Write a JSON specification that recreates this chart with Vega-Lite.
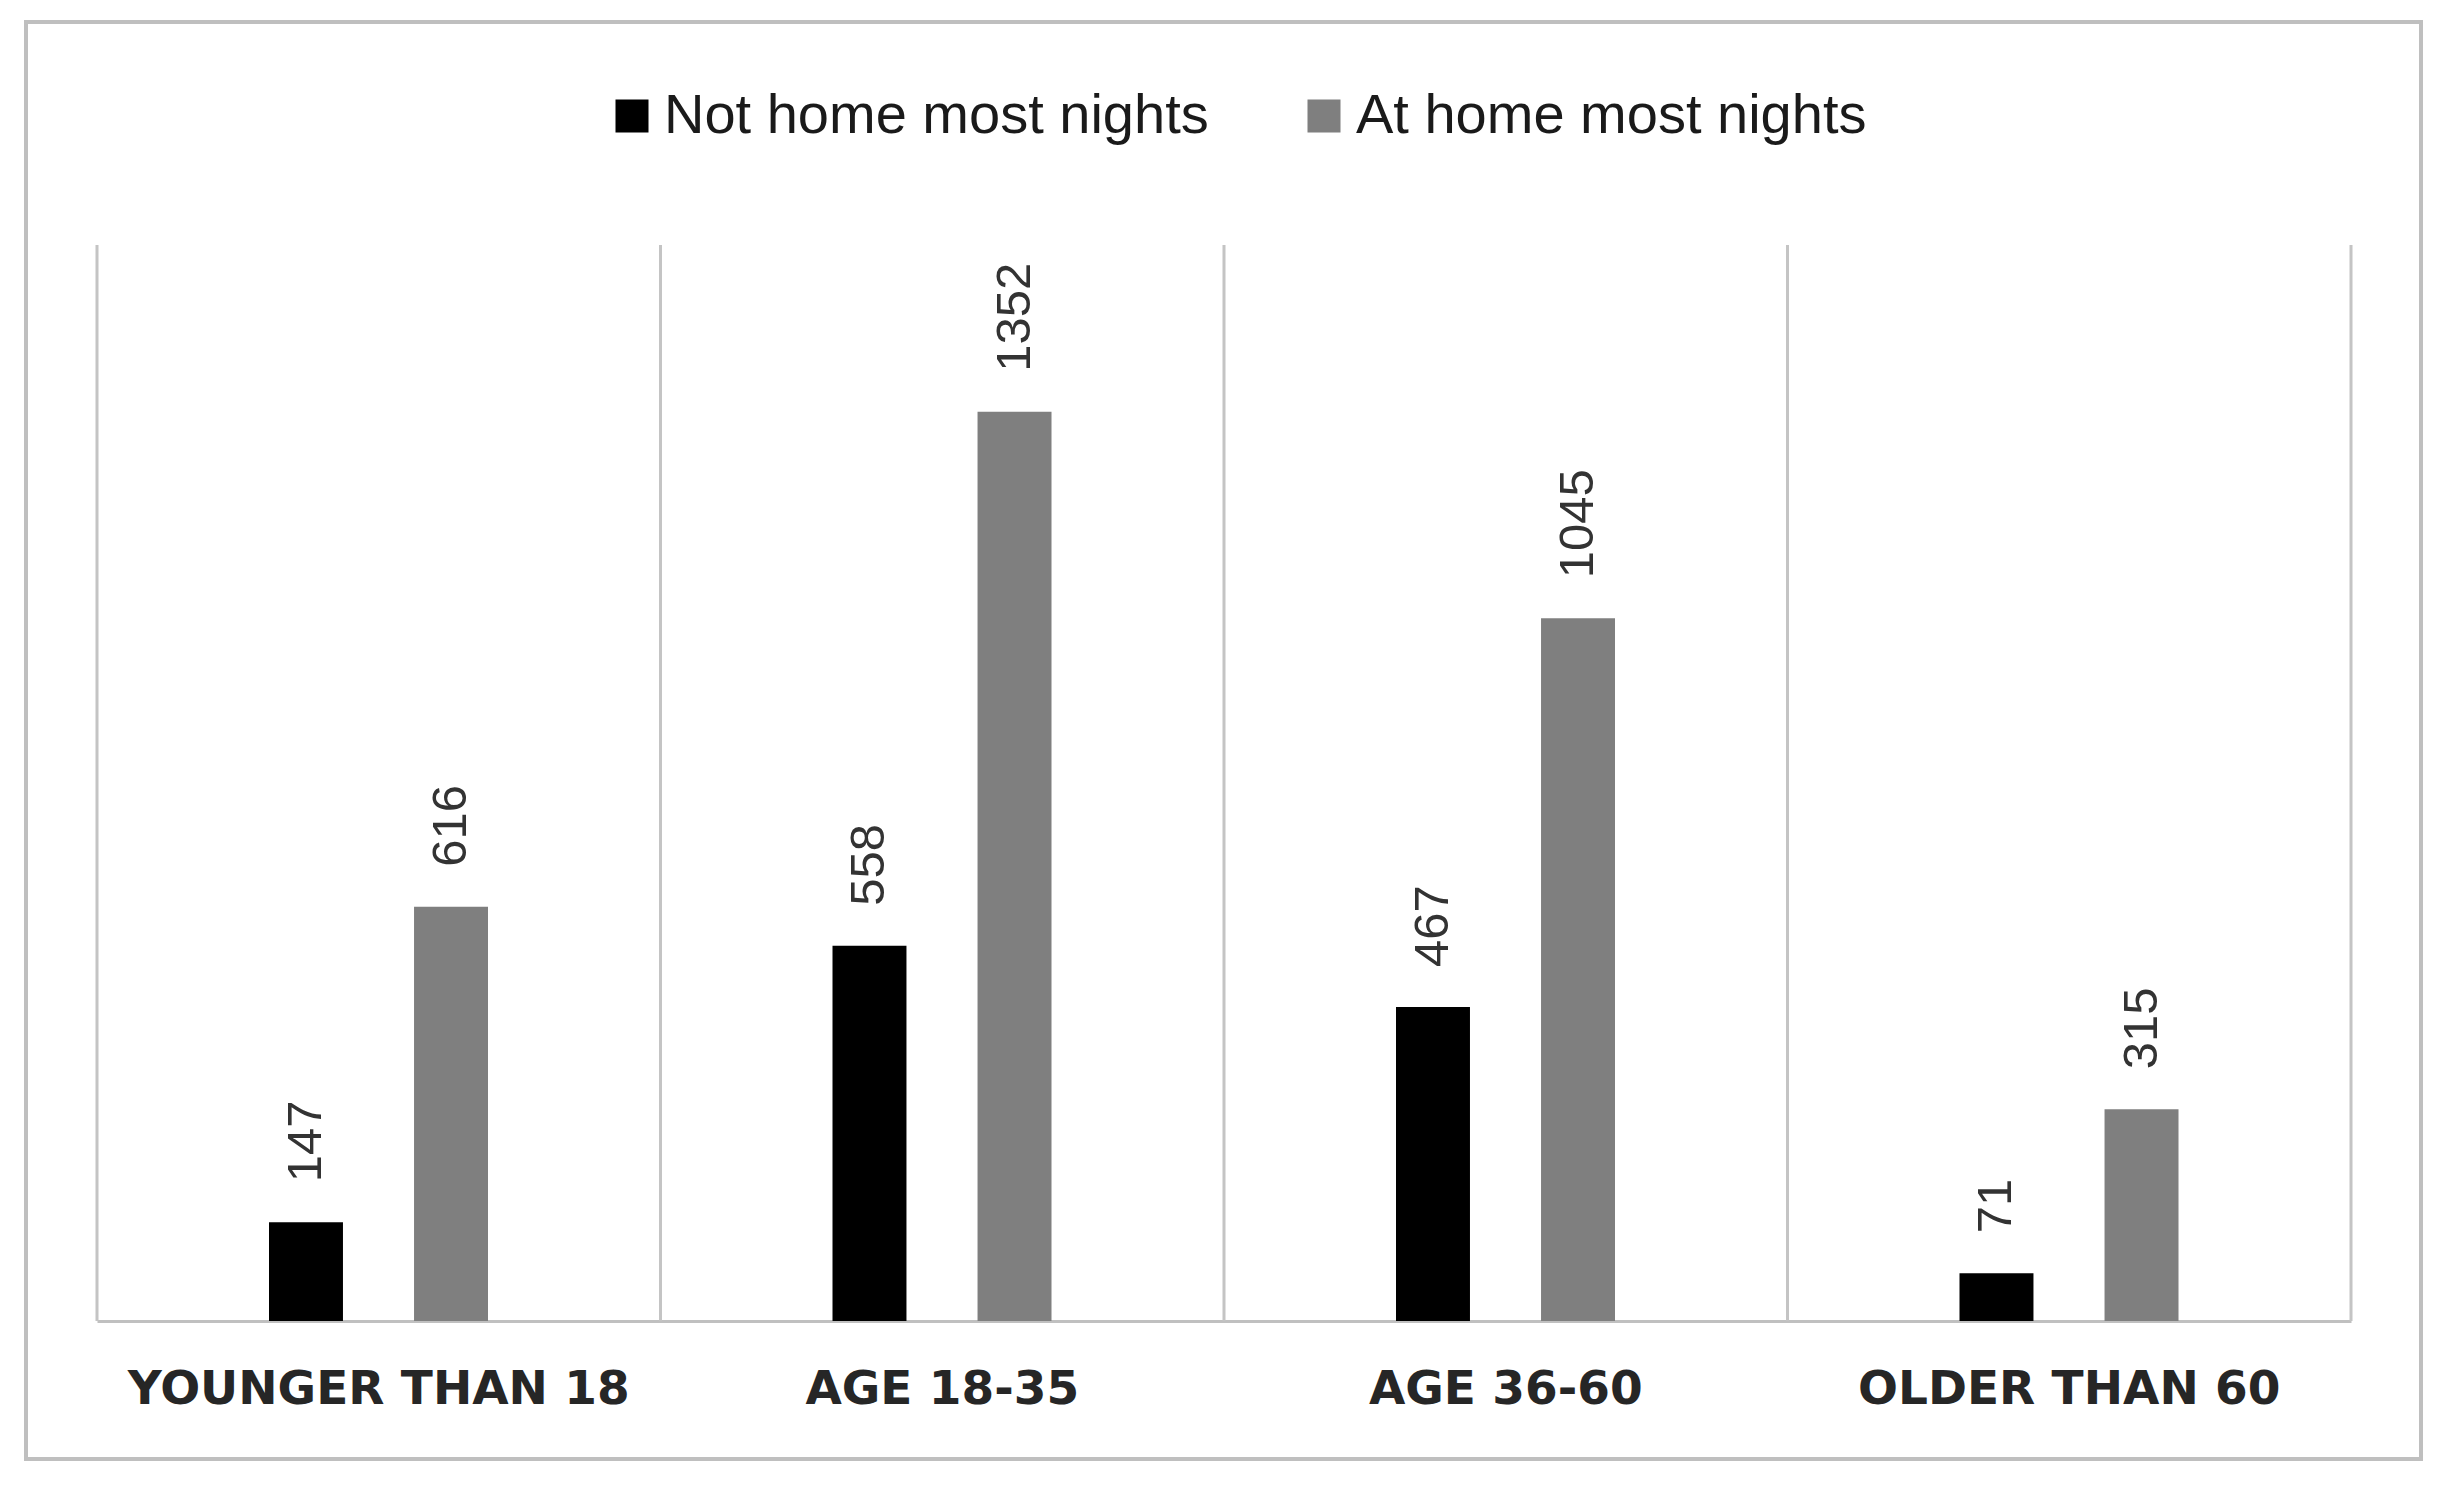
{
  "$schema": "https://vega.github.io/schema/vega-lite/v6.json",
  "autosize": {"type": "none"},
  "width": 2395,
  "height": 1437,
  "padding": {"left": 26, "top": 22, "right": 21, "bottom": 26},
  "background": "#ffffff",
  "datasets": {
    "counts": [
      {"cat": "YOUNGER THAN 18", "series": "Not home most nights", "value": 147},
      {"cat": "YOUNGER THAN 18", "series": "At home most nights", "value": 616},
      {"cat": "AGE 18-35", "series": "Not home most nights", "value": 558},
      {"cat": "AGE 18-35", "series": "At home most nights", "value": 1352},
      {"cat": "AGE 36-60", "series": "Not home most nights", "value": 467},
      {"cat": "AGE 36-60", "series": "At home most nights", "value": 1045},
      {"cat": "OLDER THAN 60", "series": "Not home most nights", "value": 71},
      {"cat": "OLDER THAN 60", "series": "At home most nights", "value": 315}
    ],
    "groups": [
      {"cat": "YOUNGER THAN 18"},
      {"cat": "AGE 18-35"},
      {"cat": "AGE 36-60"},
      {"cat": "OLDER THAN 60"}
    ]
  },
  "layer": [
    {
      "data": {"name": "groups"},
      "mark": {"type": "rule", "color": "#c4c4c4", "strokeWidth": 3},
      "encoding": {
        "x": {
          "field": "cat", "type": "nominal", "bandPosition": 0,
          "scale": {"type": "band", "domain": ["YOUNGER THAN 18", "AGE 18-35", "AGE 36-60", "OLDER THAN 60"], "range": [71, 2325], "paddingInner": 0, "paddingOuter": 0},
          "axis": {"title": null, "orient": "bottom", "offset": -138, "domainColor": "#c0c0c0", "domainWidth": 3, "ticks": false, "tickSize": 0, "grid": false, "labelPadding": 82, "labelBaseline": "alphabetic", "labelFont": "DejaVu Sans", "labelFontWeight": "bold", "labelFontSize": 47, "labelColor": "#262626", "labelAngle": 0, "labelLimit": 1000}
        },
        "y": {"datum": 0, "type": "quantitative", "scale": {"domain": [0, 1600], "range": [1299, 223], "nice": false}, "axis": null},
        "y2": {"datum": 1600}
      }
    },
    {
      "data": {"name": "groups"},
      "transform": [{"filter": "datum.cat == 'OLDER THAN 60'"}],
      "mark": {"type": "rule", "color": "#c4c4c4", "strokeWidth": 3},
      "encoding": {
        "x": {
          "field": "cat", "type": "nominal", "bandPosition": 1,
          "scale": {"type": "band", "domain": ["YOUNGER THAN 18", "AGE 18-35", "AGE 36-60", "OLDER THAN 60"], "range": [71, 2325], "paddingInner": 0, "paddingOuter": 0},
          "axis": {"title": null, "orient": "bottom", "offset": -138, "domainColor": "#c0c0c0", "domainWidth": 3, "ticks": false, "tickSize": 0, "grid": false, "labelPadding": 82, "labelBaseline": "alphabetic", "labelFont": "DejaVu Sans", "labelFontWeight": "bold", "labelFontSize": 47, "labelColor": "#262626", "labelAngle": 0, "labelLimit": 1000}
        },
        "y": {"datum": 0, "type": "quantitative", "scale": {"domain": [0, 1600], "range": [1299, 223], "nice": false}, "axis": null},
        "y2": {"datum": 1600}
      }
    },
    {
      "data": {"name": "counts"},
      "mark": {"type": "bar"},
      "encoding": {
        "x": {
          "field": "cat", "type": "nominal",
          "scale": {"type": "band", "domain": ["YOUNGER THAN 18", "AGE 18-35", "AGE 36-60", "OLDER THAN 60"], "range": [71, 2325], "paddingInner": 0, "paddingOuter": 0},
          "axis": {"title": null, "orient": "bottom", "offset": -138, "domainColor": "#c0c0c0", "domainWidth": 3, "ticks": false, "tickSize": 0, "grid": false, "labelPadding": 82, "labelBaseline": "alphabetic", "labelFont": "DejaVu Sans", "labelFontWeight": "bold", "labelFontSize": 47, "labelColor": "#262626", "labelAngle": 0, "labelLimit": 1000}
        },
        "xOffset": {
          "field": "series", "type": "nominal",
          "scale": {"domain": ["Not home most nights", "At home most nights"], "range": [172, 391], "paddingInner": 0.49, "paddingOuter": 0}
        },
        "y": {"field": "value", "type": "quantitative", "scale": {"domain": [0, 1600], "range": [1299, 223], "nice": false}, "axis": null},
        "color": {
          "field": "series", "type": "nominal",
          "scale": {"domain": ["Not home most nights", "At home most nights"], "range": ["#000000", "#7f7f7f"]},
          "legend": {
            "orient": "none", "legendX": 578, "legendY": 66, "direction": "horizontal",
            "title": null, "symbolType": "square", "symbolSize": 1089, "symbolStrokeWidth": 0,
            "labelFont": "Liberation Sans", "labelFontSize": 56, "labelColor": "#1a1a1a",
            "labelLimit": 1000, "labelOffset": 4, "columnPadding": 87
          }
        }
      }
    },
    {
      "data": {"name": "counts"},
      "mark": {"type": "text", "angle": 270, "align": "left", "baseline": "middle", "dx": 40, "font": "Liberation Sans", "fontSize": 49, "color": "#333333"},
      "encoding": {
        "x": {
          "field": "cat", "type": "nominal",
          "scale": {"type": "band", "domain": ["YOUNGER THAN 18", "AGE 18-35", "AGE 36-60", "OLDER THAN 60"], "range": [71, 2325], "paddingInner": 0, "paddingOuter": 0},
          "axis": {"title": null, "orient": "bottom", "offset": -138, "domainColor": "#c0c0c0", "domainWidth": 3, "ticks": false, "tickSize": 0, "grid": false, "labelPadding": 82, "labelBaseline": "alphabetic", "labelFont": "DejaVu Sans", "labelFontWeight": "bold", "labelFontSize": 47, "labelColor": "#262626", "labelAngle": 0, "labelLimit": 1000}
        },
        "xOffset": {
          "field": "series", "type": "nominal",
          "scale": {"domain": ["Not home most nights", "At home most nights"], "range": [172, 391], "paddingInner": 0.49, "paddingOuter": 0}
        },
        "y": {"field": "value", "type": "quantitative", "scale": {"domain": [0, 1600], "range": [1299, 223], "nice": false}, "axis": null},
        "text": {"field": "value", "type": "quantitative"}
      }
    }
  ],
  "config": {
    "view": {"stroke": "#bfbfbf", "strokeWidth": 4}
  }
}
